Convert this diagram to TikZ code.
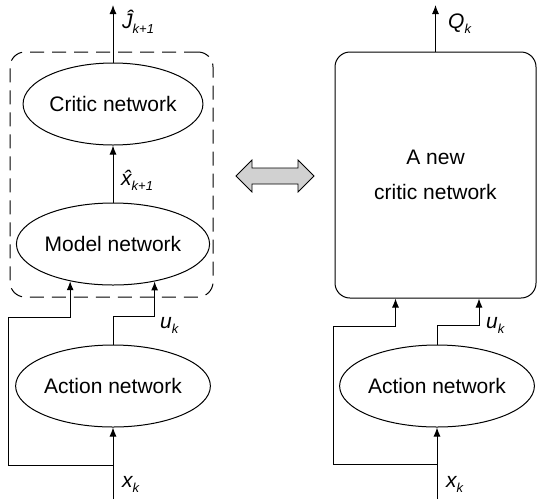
\documentclass[tikz,border=0pt]{standalone}
\usepackage{fontspec}
\setmainfont{Liberation Sans}
\usetikzlibrary{shapes.geometric,arrows.meta}
\newcommand{\lowsub}[1]{\raisebox{-0.45ex}{\fontsize{13}{13}\selectfont #1}}

\begin{document}
\begin{tikzpicture}[x=1pt,y=-1pt,font=\fontsize{21}{25}\selectfont,
	net/.style={draw,ellipse,line width=1pt,minimum width=178pt,minimum height=82pt,inner sep=0pt},
	arr/.style={-{Latex[length=9pt,width=7pt]},line width=1pt},
	lbl/.style={anchor=west,inner sep=0pt,font=\fontsize{21}{25}\selectfont\itshape}]
	\useasboundingbox (0,0) rectangle (537,499);
	\node[draw,rounded corners=15pt,dash pattern=on 14pt off 8pt,line width=1pt,minimum width=203pt,minimum height=245pt,inner sep=0pt] (dbox) at (111.5,174.5) {};
	\node[net] (critic) at (113,104) {Critic network};
	\node[net] (model) at (113,244) {Model network};
	\node[net] (action) at (113,386) {Action network};
	\node[net] (action2) at (437,386) {Action network};
	\node[draw,rounded corners=15pt,line width=1pt,minimum width=201pt,minimum height=246pt,align=center,font=\fontsize{21}{35}\selectfont] (newcritic) at (435.5,175) {A new\\critic network};
	\coordinate (Jout) at (113,5);
	\coordinate (Qout) at (435.5,5);
	\coordinate (xin) at (113,499);
	\coordinate (split) at (113,465);
	\coordinate (turn) at (8,317);
	\coordinate (xin2) at (437,499);
	\coordinate (split2) at (437,464);
	\coordinate (turn2) at (333,326);
	\draw[arr] (critic.north) -- (Jout);
	\draw[arr] (model.north) -- (critic.south);
	\draw[arr] (xin) -- (action.south);
	\draw[arr] (split) -| (turn) -| (model.-139);
	\draw[arr] (action.north) -- ++(0,-28) -| (model.-42.5);
	\draw[arr] (newcritic.north) -- (Qout);
	\draw[arr] (xin2) -- (action2.south);
	\draw[arr] (split2) -| (turn2) -| ([xshift=-40pt]newcritic.south);
	\draw[arr] (action2.north) -- ++(0,-19) -| ([xshift=43.5pt]newcritic.south);
	\draw[fill=black!18,line width=0.8pt] (236,176) -- (252,160) -- (252,168) -- (298,168) -- (298,160) -- (314,176) -- (298,192) -- (298,184) -- (252,184) -- (252,192) -- cycle;
	\node[lbl] (Jlbl) at (122,22) {\^{J}\lowsub{\textit{k}+1}};
	\node[lbl] (xlbl) at (121,180) {\^{x}\lowsub{\textit{k}+1}};
	\node[lbl] (ulbl) at (160,325) {u\lowsub{\textit{k}}};
	\node[lbl] (xklbl) at (122,484) {x\lowsub{\textit{k}}};
	\node[lbl] (Qlbl) at (448,24) {Q\lowsub{\textit{k}}};
	\node[lbl] (ulbl2) at (486,325) {u\lowsub{\textit{k}}};
	\node[lbl] (xklbl2) at (446,484) {x\lowsub{\textit{k}}};
\end{tikzpicture}
\end{document}
